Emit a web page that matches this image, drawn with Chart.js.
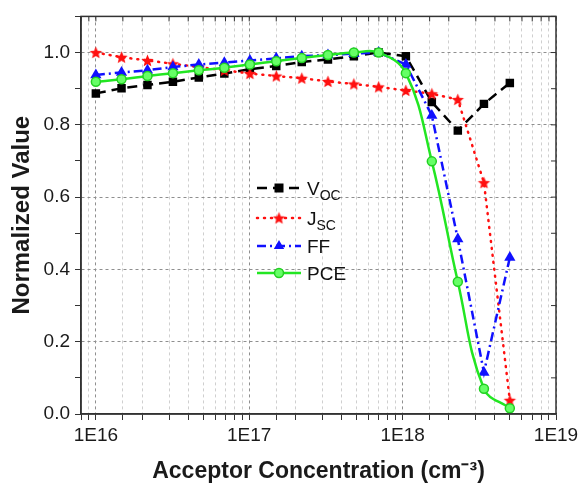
<!DOCTYPE html>
<html>
<head>
<meta charset="utf-8">
<script src="https://cdn.jsdelivr.net/npm/chart.js@4/dist/chart.umd.min.js"></script>
<style>
  body { margin: 0; background: #fff; }
  canvas { display: block; }
</style>
</head>
<body>
<canvas id="grafico" width="587" height="491"></canvas>
<script>
// Concentraciones de aceptor (cm^-3)
const concentraciones = [1.0e16, 1.47e16, 2.17e16, 3.18e16, 4.69e16, 6.88e16, 1.01e17, 1.5e17, 2.2e17,
  3.26e17, 4.81e17, 6.98e17, 1.05e18, 1.55e18, 2.29e18, 3.39e18, 5.0e18];

// Valores normalizados
const voc = [0.887, 0.901, 0.910, 0.919, 0.931, 0.942, 0.954, 0.963, 0.974, 0.981, 0.990, 1.000, 0.990, 0.863, 0.784, 0.858, 0.916];
const jsc = [1.000, 0.987, 0.978, 0.969, 0.960, 0.951, 0.942, 0.935, 0.929, 0.920, 0.913, 0.905, 0.895, 0.886, 0.870, 0.640, 0.038];
const ff  = [0.938, 0.945, 0.951, 0.960, 0.967, 0.972, 0.978, 0.984, 0.990, 0.993, 0.997, 1.000, 0.967, 0.826, 0.484, 0.115, 0.433];
const pce = [0.919, 0.926, 0.935, 0.943, 0.951, 0.958, 0.967, 0.976, 0.985, 0.993, 1.000, 1.000, 0.943, 0.699, 0.366, 0.070, 0.016];

const fuente = '"Liberation Sans", Arial, sans-serif';

// Estrella rellena para J_SC
function crearEstrella(r, color) {
  const c = document.createElement('canvas');
  const s = Math.ceil(r * 2 + 2);
  c.width = s; c.height = s;
  const g = c.getContext('2d');
  g.fillStyle = color;
  g.beginPath();
  for (let i = 0; i < 10; i++) {
    const rr = i % 2 === 0 ? r : r * 0.45;
    const a = -Math.PI / 2 + i * Math.PI / 5;
    g.lineTo(s / 2 + rr * Math.cos(a), s / 2 + rr * Math.sin(a) + 0.5);
  }
  g.closePath();
  g.fill();
  return c;
}
const estrella = crearEstrella(6.5, '#ff1010');

const puntos = (ys) => concentraciones.map((x, i) => ({ x: x, y: ys[i] }));

const series = [
  { nombre: 'V', sub: 'OC', color: '#000000', dash: [10, 6], cap: 'butt', marca: 'rect' },
  { nombre: 'J', sub: 'SC', color: '#ff1010', dash: [1, 6], cap: 'round', marca: 'star' },
  { nombre: 'FF', sub: '', color: '#1010ff', dash: [9, 4, 2, 4], cap: 'butt', marca: 'triangle' },
  { nombre: 'PCE', sub: '', color: '#22e622', dash: [], cap: 'butt', marca: 'circle' }
];

// Leyenda con subíndices
const leyenda = {
  id: 'leyenda',
  afterDraw(chart) {
    const ctx = chart.ctx;
    const filas = [188, 218, 246, 273];
    series.forEach((s, i) => {
      const y = filas[i];
      ctx.save();
      ctx.strokeStyle = s.color;
      ctx.lineWidth = 2.5;
      ctx.lineCap = s.cap;
      ctx.setLineDash(s.dash);
      ctx.beginPath();
      ctx.moveTo(257, y);
      ctx.lineTo(301, y);
      ctx.stroke();
      ctx.setLineDash([]);
      const mx = 279;
      if (s.marca === 'rect') {
        ctx.fillStyle = s.color;
        ctx.fillRect(mx - 4.5, y - 4.5, 9, 9);
      } else if (s.marca === 'star') {
        ctx.drawImage(estrella, mx - estrella.width / 2, y - estrella.height / 2);
      } else if (s.marca === 'triangle') {
        ctx.fillStyle = s.color;
        ctx.beginPath();
        ctx.moveTo(mx, y - 6);
        ctx.lineTo(mx + 5.2, y + 3);
        ctx.lineTo(mx - 5.2, y + 3);
        ctx.closePath();
        ctx.fill();
      } else {
        ctx.fillStyle = '#66ff66';
        ctx.strokeStyle = '#22d022';
        ctx.lineWidth = 1.5;
        ctx.beginPath();
        ctx.arc(mx, y, 4.5, 0, Math.PI * 2);
        ctx.fill();
        ctx.stroke();
      }
      ctx.fillStyle = '#111';
      ctx.textBaseline = 'alphabetic';
      ctx.font = '19px ' + fuente;
      ctx.fillText(s.nombre, 307, y + 7);
      if (s.sub) {
        const w = ctx.measureText(s.nombre).width;
        ctx.font = '14px ' + fuente;
        ctx.fillText(s.sub, 307 + w, y + 12);
      }
      ctx.restore();
    });
  }
};

// Marco superior/derecho con marcas interiores
const marco = {
  id: 'marco',
  afterDraw(chart) {
    const { ctx, chartArea: a, scales } = chart;
    ctx.save();
    ctx.strokeStyle = '#333';
    ctx.lineWidth = 1.5;
    ctx.strokeRect(a.left, a.top, a.right - a.left, a.bottom - a.top);
    ctx.lineWidth = 1;
    ctx.beginPath();
    scales.x.ticks.forEach(t => {
      const px = scales.x.getPixelForValue(t.value);
      ctx.moveTo(px, a.top);
      ctx.lineTo(px, a.top + 5);
    });
    scales.y.ticks.forEach(t => {
      const py = scales.y.getPixelForValue(t.value);
      ctx.moveTo(a.right, py);
      ctx.lineTo(a.right - 5, py);
    });
    ctx.stroke();
    ctx.restore();
  }
};

const esPotencia = (v) => {
  const e = Math.log10(v);
  return Math.abs(e - Math.round(e)) < 1e-6;
};

const datasets = series.map((s, i) => {
  const valores = [voc, jsc, ff, pce][i];
  const base = {
    label: s.nombre + s.sub,
    data: puntos(valores),
    borderColor: s.color,
    borderWidth: 2.5,
    borderDash: s.dash,
    borderCapStyle: s.cap,
    pointBorderColor: s.color,
    pointBackgroundColor: s.color,
    pointBorderWidth: 0,
    order: 4 - i
  };
  if (s.marca === 'rect') {
    Object.assign(base, { pointStyle: 'rect', pointRadius: 6 });
  } else if (s.marca === 'star') {
    Object.assign(base, { pointStyle: estrella, pointRadius: 6 });
  } else if (s.marca === 'triangle') {
    Object.assign(base, { pointStyle: 'triangle', pointRadius: 6.5 });
  } else {
    Object.assign(base, {
      pointStyle: 'circle', pointRadius: 4.5, pointBorderWidth: 1.5,
      pointBackgroundColor: '#66ff66', pointBorderColor: '#22d022', tension: 0.4
    });
  }
  return base;
});

Chart.defaults.font.family = fuente;
Chart.defaults.color = '#1a1a1a';

new Chart(document.getElementById('grafico').getContext('2d'), {
  type: 'line',
  data: { datasets: datasets },
  options: {
    responsive: false,
    animation: false,
    devicePixelRatio: 1,
    layout: { padding: { top: 12, right: 31, left: 0, bottom: 0 } },
    plugins: { legend: { display: false }, tooltip: { enabled: false } },
    scales: {
      x: {
        type: 'logarithmic',
        min: 8e15,
        max: 1e19,
        afterFit: (scale) => { scale.height = 77; },
        title: {
          display: true,
          text: 'Acceptor Concentration (cm⁻³)',
          font: { size: 23, weight: 'bold' },
          padding: { top: 0, bottom: 6 }
        },
        ticks: {
          autoSkip: false,
          maxRotation: 0,
          padding: 4,
          font: { size: 19 },
          callback: (v) => esPotencia(v) ? '1E' + Math.round(Math.log10(v)) : ''
        },
        grid: {
          color: (c) => c.tick && esPotencia(c.tick.value) ? '#8f8f8f' : '#cfcfcf',
          tickColor: '#333',
          tickLength: 6,
          lineWidth: 1
        },
        border: { color: '#333', width: 1.5, dash: [3, 3] }
      },
      y: {
        min: 0,
        max: 1.1,
        afterFit: (scale) => { scale.width = 81; },
        title: {
          display: true,
          text: 'Normalized Value',
          font: { size: 24, weight: 'bold' },
          padding: { top: 8, bottom: 0 }
        },
        ticks: {
          stepSize: 0.1,
          padding: 5,
          font: { size: 19 },
          callback: (v) => Math.round(v * 10) % 2 === 0 ? Number(v).toFixed(1) : ''
        },
        grid: {
          color: (c) => {
            const k = Math.round(c.tick.value * 10);
            return k % 2 === 0 && k > 0 ? '#8f8f8f' : 'rgba(0,0,0,0)';
          },
          tickColor: '#333',
          tickLength: 6,
          lineWidth: 1
        },
        border: { color: '#333', width: 1.5, dash: [3, 3] }
      }
    }
  },
  plugins: [leyenda, marco]
});
</script>
</body>
</html>
